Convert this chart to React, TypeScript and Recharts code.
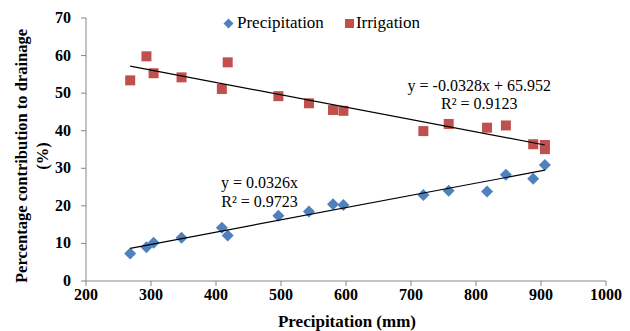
import React from 'react';
import { ScatterChart, Scatter, XAxis, YAxis, Legend, ReferenceDot } from 'recharts';

const precipX = [268, 293, 304, 347, 409, 418, 496, 543, 580, 596, 719, 758, 817, 846, 888, 906];
const precipShare = [7.3, 9.0, 10.2, 11.5, 14.2, 12.1, 17.4, 18.5, 20.4, 20.2, 22.9, 24.0, 23.8, 28.3, 27.2, 30.9];
const irrigX = [268, 293, 304, 347, 409, 418, 496, 543, 580, 596, 719, 758, 817, 846, 888, 906, 906];
const irrigShare = [53.4, 59.8, 55.3, 54.2, 51.1, 58.2, 49.2, 47.3, 45.5, 45.3, 39.9, 41.8, 40.8, 41.4, 36.4, 36.2, 35.1];
const trendPrecipX = [268, 906];
const trendPrecipY = [8.7, 29.5];
const trendIrrigX = [268, 906];
const trendIrrigY = [57.2, 36.2];
const xTicks = [200, 300, 400, 500, 600, 700, 800, 900, 1000];
const yTicks = [0, 10, 20, 30, 40, 50, 60, 70];

const precipData = precipX.map((x, i) => ({ x, y: precipShare[i] }));
const irrigData = irrigX.map((x, i) => ({ x, y: irrigShare[i] }));
const trendPData = trendPrecipX.map((x, i) => ({ x, y: trendPrecipY[i] }));
const trendIData = trendIrrigX.map((x, i) => ({ x, y: trendIrrigY[i] }));

const FONT = "'Liberation Serif', 'Times New Roman', serif";
const BLUE = '#4F81BD';
const RED = '#C0504D';
const AXIS = '#868686';

const Diamond = (props: any) => {
  const { cx, cy } = props;
  if (cx == null || cy == null) return <g />;
  const r = 6;
  return <polygon points={`${cx},${cy - r} ${cx + r},${cy} ${cx},${cy + r} ${cx - r},${cy}`} fill={BLUE} />;
};

const Square = (props: any) => {
  const { cx, cy } = props;
  if (cx == null || cy == null) return <g />;
  const s = 10;
  return <rect x={cx - s / 2} y={cy - s / 2} width={s} height={s} fill={RED} />;
};

const Empty = () => <g />;

const XTick = (props: any) => {
  const { x, y, payload } = props;
  return (
    <text x={x} y={y + 11} textAnchor="middle" fill="#000" style={{ fontFamily: FONT, fontWeight: 'bold', fontSize: 16 }}>
      {payload.value}
    </text>
  );
};

const YTick = (props: any) => {
  const { x, y, payload } = props;
  return (
    <text x={x} y={y + 5} textAnchor="end" fill="#000" style={{ fontFamily: FONT, fontWeight: 'bold', fontSize: 16 }}>
      {payload.value}
    </text>
  );
};

const LegendContent = () => (
  <div style={{ display: 'flex', alignItems: 'center', fontFamily: FONT, fontSize: 17, color: '#000', whiteSpace: 'nowrap', lineHeight: '20px' }}>
    <svg width={11} height={11} style={{ marginRight: 3 }}>
      <polygon points="5.5,0.5 10.5,5.5 5.5,10.5 0.5,5.5" fill={BLUE} />
    </svg>
    <span>Precipitation</span>
    <svg width={9} height={9} style={{ marginLeft: 21, marginRight: 2 }}>
      <rect x={0} y={0} width={9} height={9} fill={RED} />
    </svg>
    <span>Irrigation</span>
  </div>
);

const YLabel = () => (
  <g style={{ fontFamily: FONT, fontWeight: 'bold', fontSize: 16.5 }}>
    <text transform="translate(27,156) rotate(-90)" textAnchor="middle" fill="#000">
      Percentage contribution to drainage
    </text>
    <text transform="translate(48,156) rotate(-90)" textAnchor="middle" fill="#000">
      (%)
    </text>
  </g>
);

const XLabel = () => (
  <text x={347} y={327} textAnchor="middle" fill="#000" style={{ fontFamily: FONT, fontWeight: 'bold', fontSize: 17 }}>
    Precipitation (mm)
  </text>
);

const annStyle = { fill: '#000', style: { fontFamily: FONT, fontSize: 16 } };

export default function App() {
  return (
    <div style={{ position: 'absolute', left: 0, top: 0, width: 630, height: 331, background: '#fff', fontFamily: FONT }}>
      <ScatterChart width={630} height={331} margin={{ top: 18, right: 24, left: 0, bottom: 0 }} style={{ fontFamily: FONT }}>
        <XAxis
          type="number"
          dataKey="x"
          domain={[200, 1000]}
          ticks={xTicks}
          interval={0}
          allowDataOverflow
          height={50}
          stroke={AXIS}
          tickSize={5}
          tickMargin={3}
          tick={XTick}
          label={{ content: XLabel }}
        />
        <YAxis
          type="number"
          dataKey="y"
          domain={[0, 70]}
          ticks={yTicks}
          interval={0}
          allowDataOverflow
          width={86}
          stroke={AXIS}
          tickSize={5}
          tickMargin={10}
          tick={YTick}
          label={{ content: YLabel }}
        />
        <Legend
          layout="horizontal"
          verticalAlign="middle"
          align="center"
          content={LegendContent}
          wrapperStyle={{ left: 223, top: 13, width: 230, height: 20 }}
        />
        <Scatter name="Irrigation" data={irrigData} shape={Square} isAnimationActive={false} />
        <Scatter name="Precipitation" data={precipData} shape={Diamond} isAnimationActive={false} />
        <Scatter data={trendIData} line={{ stroke: '#000', strokeWidth: 1.2 }} shape={Empty} legendType="none" isAnimationActive={false} />
        <Scatter data={trendPData} line={{ stroke: '#000', strokeWidth: 1.2 }} shape={Empty} legendType="none" isAnimationActive={false} />
        <ReferenceDot x={805} y={52.2} r={0} stroke="none" fill="none" label={{ value: 'y = -0.0328x + 65.952', position: 'center', ...annStyle }} />
        <ReferenceDot x={805} y={47.3} r={0} stroke="none" fill="none" label={{ value: 'R² = 0.9123', position: 'center', ...annStyle }} />
        <ReferenceDot x={467} y={26.3} r={0} stroke="none" fill="none" label={{ value: 'y = 0.0326x', position: 'center', ...annStyle }} />
        <ReferenceDot x={467} y={21.3} r={0} stroke="none" fill="none" label={{ value: 'R² = 0.9723', position: 'center', ...annStyle }} />
      </ScatterChart>
    </div>
  );
}
